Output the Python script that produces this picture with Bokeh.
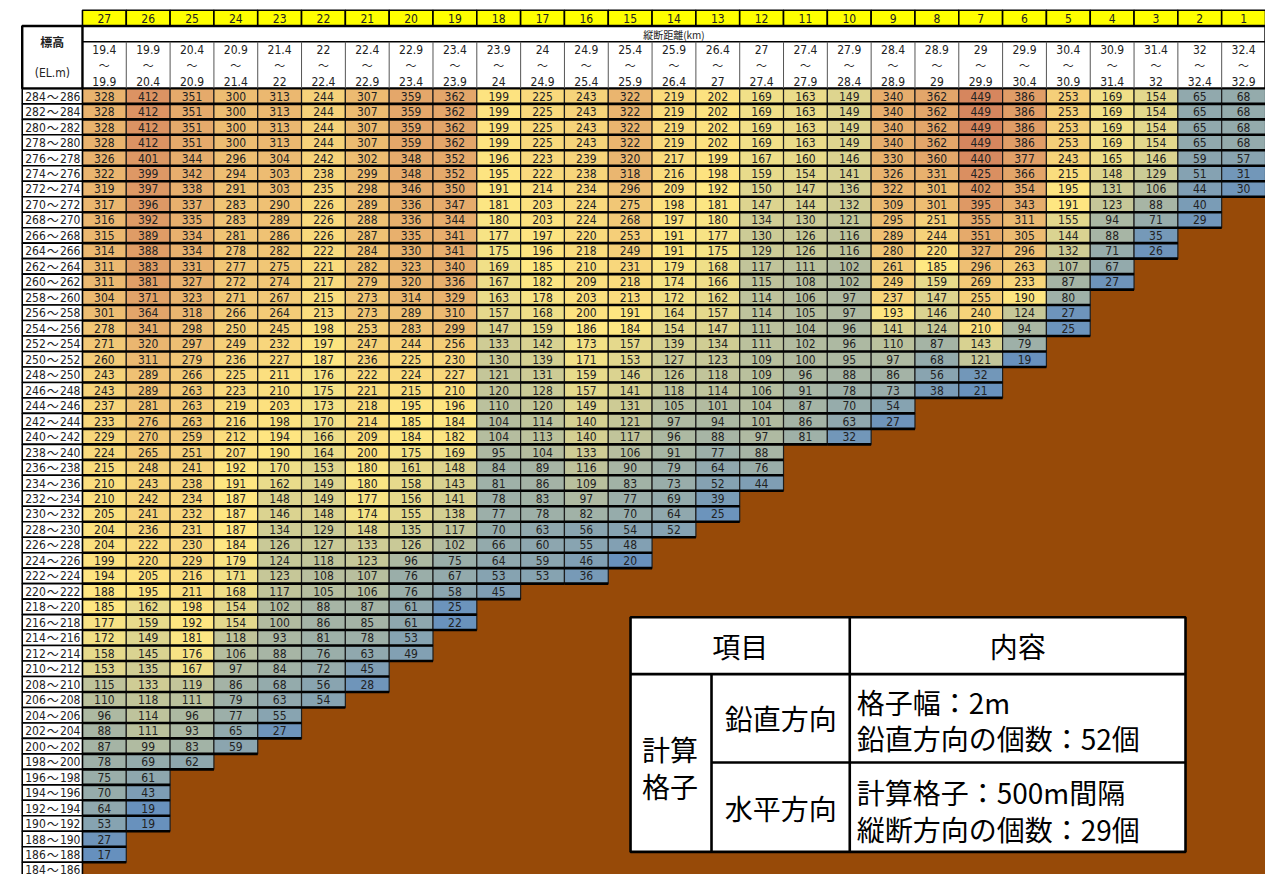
import numpy as np
from bokeh.plotting import figure
from bokeh.models import ColumnDataSource, LinearColorMapper
from bokeh.transform import transform
from bokeh.core.properties import value
from bokeh.embed import file_html
from bokeh.resources import INLINE

# ---------------- data ----------------
col_ids = [27, 26, 25, 24, 23, 22, 21, 20, 19, 18, 17, 16, 15, 14, 13, 12, 11, 10, 9, 8, 7, 6, 5, 4, 3, 2, 1]
km_from = ["19.4", "19.9", "20.4", "20.9", "21.4", "22", "22.4", "22.9", "23.4", "23.9", "24", "24.9", "25.4",
           "25.9", "26.4", "27", "27.4", "27.9", "28.4", "28.9", "29", "29.9", "30.4", "30.9", "31.4", "32", "32.4"]
km_to = ["19.9", "20.4", "20.9", "21.4", "22", "22.4", "22.9", "23.4", "23.9", "24", "24.9", "25.4", "25.9",
         "26.4", "27", "27.4", "27.9", "28.4", "28.9", "29", "29.9", "30.4", "30.9", "31.4", "32", "32.4", "32.9"]
elev_low = list(range(284, 182, -2))  # 284 ... 184 (row = elev_low ~ elev_low+2)

# values per column, from the top row (284~286) downward
c27 = [328, 328, 328, 328, 326, 322, 319, 317, 316, 315, 314, 311, 311, 304, 301, 278, 271, 260, 243, 243, 237, 233,
       229, 224, 215, 210, 210, 205, 204, 204, 199, 194, 188, 185, 177, 172, 158, 153, 115, 110, 96, 88, 87, 78, 75,
       70, 64, 53, 27, 17]
c26 = [412, 412, 412, 412, 401, 399, 397, 396, 392, 389, 388, 383, 381, 371, 364, 341, 320, 311, 289, 289, 281, 276,
       270, 265, 248, 243, 242, 241, 236, 222, 220, 205, 195, 162, 159, 149, 145, 135, 133, 118, 114, 111, 99, 69,
       61, 43, 19, 19]
c25 = [351, 351, 351, 351, 344, 342, 338, 337, 335, 334, 334, 331, 327, 323, 318, 298, 297, 279, 266, 263, 263, 263,
       259, 251, 241, 238, 234, 232, 231, 230, 229, 216, 211, 198, 192, 181, 176, 167, 119, 111, 96, 93, 83, 62]
c24 = [300, 300, 300, 300, 296, 294, 291, 283, 283, 281, 278, 277, 272, 271, 266, 250, 249, 236, 225, 223, 219, 216,
       212, 207, 192, 191, 187, 187, 187, 184, 179, 171, 168, 154, 154, 118, 106, 97, 86, 79, 77, 65, 59]
c23 = [313, 313, 313, 313, 304, 303, 303, 290, 289, 286, 282, 275, 274, 267, 264, 245, 232, 227, 211, 210, 203, 198,
       194, 190, 170, 162, 148, 146, 134, 126, 124, 123, 117, 102, 100, 93, 88, 84, 68, 63, 55, 27]
c22 = [244, 244, 244, 244, 242, 238, 235, 226, 226, 226, 222, 221, 217, 215, 213, 198, 197, 187, 176, 175, 173, 170,
       166, 164, 153, 149, 149, 148, 129, 127, 118, 108, 105, 88, 86, 81, 76, 72, 56, 54]
c21 = [307, 307, 307, 307, 302, 299, 298, 289, 288, 287, 284, 282, 279, 273, 273, 253, 247, 236, 222, 221, 218, 214,
       209, 200, 180, 180, 177, 174, 148, 133, 123, 107, 106, 87, 85, 78, 63, 45, 28]
c20 = [359, 359, 359, 359, 348, 348, 346, 336, 336, 335, 330, 323, 320, 314, 289, 283, 244, 225, 224, 215, 195, 185,
       184, 175, 161, 158, 156, 155, 135, 126, 96, 76, 76, 61, 61, 53, 49]
c19 = [362, 362, 362, 362, 352, 352, 350, 347, 344, 341, 341, 340, 336, 329, 310, 299, 256, 230, 227, 210, 196, 184,
       182, 169, 148, 143, 141, 138, 117, 102, 75, 67, 58, 25, 22]
c18 = [199, 199, 199, 199, 196, 195, 191, 181, 180, 177, 175, 169, 167, 163, 157, 147, 133, 130, 121, 120, 110, 104,
       104, 95, 84, 81, 78, 77, 70, 66, 64, 53, 45]
c17 = [225, 225, 225, 225, 223, 222, 214, 203, 203, 197, 196, 185, 182, 178, 168, 159, 142, 139, 131, 128, 120, 114,
       113, 104, 89, 86, 83, 78, 63, 60, 59, 53]
c16 = [243, 243, 243, 243, 239, 238, 234, 224, 224, 220, 218, 210, 209, 203, 200, 186, 173, 171, 159, 157, 149, 140,
       140, 133, 116, 109, 97, 82, 56, 55, 46, 36]
c15 = [322, 322, 322, 322, 320, 318, 296, 275, 268, 253, 249, 231, 218, 213, 191, 184, 157, 153, 146, 141, 131, 121,
       117, 106, 90, 83, 77, 70, 54, 48, 20]
c14 = [219, 219, 219, 219, 217, 216, 209, 198, 197, 191, 191, 179, 174, 172, 164, 154, 139, 127, 126, 118, 105, 97,
       96, 91, 79, 73, 69, 64, 52]
c13 = [202, 202, 202, 202, 199, 198, 192, 181, 180, 177, 175, 168, 166, 162, 157, 147, 134, 123, 118, 114, 101, 94,
       88, 77, 64, 52, 39, 25]
c12 = [169, 169, 169, 169, 167, 159, 150, 147, 134, 130, 129, 117, 115, 114, 114, 111, 111, 109, 109, 106, 104, 101,
       97, 88, 76, 44]
c11 = [163, 163, 163, 163, 160, 154, 147, 144, 130, 126, 126, 111, 108, 106, 105, 104, 102, 100, 96, 91, 87, 86, 81]
c10 = [149, 149, 149, 149, 146, 141, 136, 132, 121, 116, 116, 102, 102, 97, 97, 96, 96, 95, 88, 78, 70, 63, 32]
c9 = [340, 340, 340, 340, 330, 326, 322, 309, 295, 289, 280, 261, 249, 237, 193, 141, 110, 97, 86, 73, 54, 27]
c8 = [362, 362, 362, 362, 360, 331, 301, 301, 251, 244, 220, 185, 159, 147, 146, 124, 87, 68, 56, 38]
c7 = [449, 449, 449, 449, 440, 425, 402, 395, 355, 351, 327, 296, 269, 255, 240, 210, 143, 121, 32, 21]
c6 = [386, 386, 386, 386, 377, 366, 354, 343, 311, 305, 296, 263, 233, 190, 124, 94, 79, 19]
c5 = [253, 253, 253, 253, 243, 215, 195, 191, 155, 144, 132, 107, 87, 80, 27, 25]
c4 = [169, 169, 169, 169, 165, 148, 131, 123, 94, 88, 71, 67, 27]
c3 = [154, 154, 154, 154, 146, 129, 106, 88, 71, 35, 26]
c2 = [65, 65, 65, 65, 59, 51, 44, 40, 29]
c1 = [68, 68, 68, 68, 57, 31, 30]

columns = [c27, c26, c25, c24, c23, c22, c21, c20, c19, c18, c17, c16, c15, c14, c13,
           c12, c11, c10, c9, c8, c7, c6, c5, c4, c3, c2, c1]

# ---------------- layout ----------------
W_REF, H_REF = 1281, 890
X0, X1 = 83.0, 1281.0
CW = (X1 - X0) / len(col_ids)
Y0 = 89.5
RH = 15.76
LX0 = 22.0
NUM_FONT = value("DejaVu Sans Condensed")
JP_FONT = value("Noto Sans CJK JP")

p = figure(width=1265, height=874, x_range=(0, W_REF), y_range=(H_REF, 0),
           output_backend="svg", toolbar_location=None, min_border=0)
p.axis.visible = False
p.grid.visible = False
p.outline_line_color = None
p.background_fill_color = "white"

# brown ground
p.quad(left=[X0], right=[X1], top=[Y0], bottom=[H_REF + 5], fill_color="#974A08", line_color=None)

# colour scale (blue - yellow - red)
stops_v = [17, 185, 449]
stops_c = [(102, 144, 190), (255, 232, 130), (214, 134, 94)]
pal = []
for v in np.linspace(17, 449, 256):
    rgb = [int(round(np.interp(v, stops_v, [c[k] for c in stops_c]))) for k in range(3)]
    pal.append("#%02x%02x%02x" % tuple(rgb))
mapper = LinearColorMapper(palette=pal, low=17, high=449)

xs, ys, vals, txt = [], [], [], []
for i, col in enumerate(columns):
    for j, v in enumerate(col):
        xs.append(X0 + (i + 0.5) * CW)
        ys.append(Y0 + (j + 0.5) * RH)
        vals.append(v)
        txt.append(str(v))
src = ColumnDataSource(dict(x=xs, y=ys, v=vals, t=txt,
                            x0=[x - CW / 2 for x in xs], x1=[x + CW / 2 for x in xs],
                            yb=[y + RH / 2 for y in ys]))
p.rect(x="x", y="y", width=CW, height=RH, fill_color=transform("v", mapper),
       line_color="#1e1e1e", line_width=1.2, source=src)
p.segment(x0="x0", x1="x1", y0="yb", y1="yb", line_color="black", line_width=2.6, source=src)
p.text(x="x", y="y", text="t", text_align="center", text_baseline="middle",
       text_font=NUM_FONT, text_font_size="12px", text_color="#222222", source=src)

# row labels
ry = [Y0 + (j + 0.5) * RH for j in range(len(elev_low))]
p.rect(x=[(LX0 + X0) / 2] * len(ry), y=ry, width=X0 - LX0, height=RH,
       fill_color="white", line_color="black", line_width=1.6)
p.text(x=[LX0 + 3] * len(ry), y=ry, text=[str(e) for e in elev_low], text_align="left",
       text_baseline="middle", text_font=NUM_FONT, text_font_size="12px", text_color="#222222")
p.text(x=[53] * len(ry), y=ry, text=["～"] * len(ry), text_align="center",
       text_baseline="middle", text_font=JP_FONT, text_font_size="12px", text_color="#222222")
p.text(x=[X0 - 2] * len(ry), y=ry, text=[str(e + 2) for e in elev_low], text_align="right",
       text_baseline="middle", text_font=NUM_FONT, text_font_size="12px", text_color="#222222")

# header: yellow ids
hx = [X0 + (i + 0.5) * CW for i in range(len(col_ids))]
p.rect(x=hx, y=[18] * len(hx), width=CW, height=16, fill_color="#FFFF00", line_color="black", line_width=1.6)
p.text(x=hx, y=[18.5] * len(hx), text=[str(c) for c in col_ids], text_align="center", text_baseline="middle",
       text_font=NUM_FONT, text_font_size="12px", text_color="#222222")

# header block
p.quad(left=[LX0], right=[X1], top=[26], bottom=[Y0], fill_color="white", line_color="black", line_width=2.4)
p.segment(x0=[X0], x1=[X1], y0=[42], y1=[42], line_color="black", line_width=1.4)
p.segment(x0=[X0], x1=[X0], y0=[26], y1=[Y0], line_color="black", line_width=2.4)
vx = [X0 + i * CW for i in range(1, len(col_ids))]
p.segment(x0=vx, x1=vx, y0=[42] * len(vx), y1=[Y0] * len(vx), line_color="#555555", line_width=1)
p.text(x=[(X0 + X1) / 2], y=[34.5], text=["縦断距離(km)"], text_align="center", text_baseline="middle",
       text_font=JP_FONT, text_font_size="10px", text_color="#222222")
p.text(x=hx, y=[50] * len(hx), text=km_from, text_align="center", text_baseline="middle",
       text_font=NUM_FONT, text_font_size="12px", text_color="#222222")
p.text(x=hx, y=[66] * len(hx), text=["～"] * len(hx), text_align="center", text_baseline="middle",
       text_font=JP_FONT, text_font_size="11px", text_color="#222222")
p.text(x=hx, y=[82] * len(hx), text=km_to, text_align="center", text_baseline="middle",
       text_font=NUM_FONT, text_font_size="12px", text_color="#222222")
p.text(x=[(LX0 + X0) / 2], y=[42], text=["標高"], text_align="center", text_baseline="middle",
       text_font=JP_FONT, text_font_size="12px", text_font_style="bold", text_color="#222222")
p.text(x=[(LX0 + X0) / 2], y=[74], text=["(EL.m)"], text_align="center", text_baseline="middle",
       text_font=NUM_FONT, text_font_size="12px", text_color="#222222")

# info table
TL, TR, TT, TB = 638, 1200, 628, 867
p.quad(left=[TL], right=[TR], top=[TT], bottom=[TB], fill_color="white", line_color="black", line_width=2.6)
p.segment(x0=[TL, 720, 860, 720], x1=[TR, TR, 860, 720], y0=[686, 776, TT, 686], y1=[686, 776, TB, TB],
          line_color="black", line_width=2.6)
jp_big = dict(text_font=JP_FONT, text_font_size="28px", text_color="black", text_baseline="middle")
p.text(x=[749, 1030, 790, 790], y=[657, 657, 731, 822], text=["項目", "内容", "鉛直方向", "水平方向"],
       text_align="center", **jp_big)
p.text(x=[678, 678], y=[762, 800], text=["計算", "格子"], text_align="center", **jp_big)
p.text(x=[867, 867, 867, 867], y=[714, 751, 806, 844],
       text=["格子幅：2m", "鉛直方向の個数：52個", "計算格子：500m間隔", "縦断方向の個数：29個"],
       text_align="left", **jp_big)

open("out.html", "w").write(file_html(p, INLINE))
